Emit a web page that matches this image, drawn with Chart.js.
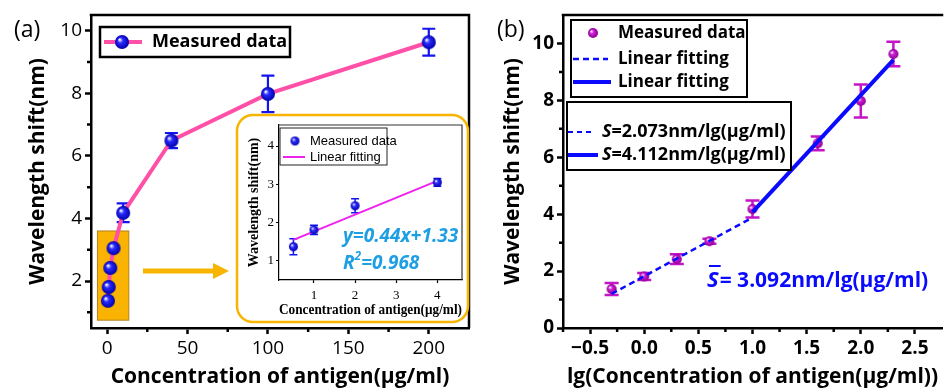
<!DOCTYPE html>
<html>
<head>
<meta charset="utf-8">
<script src="https://cdn.jsdelivr.net/npm/chart.js@4.4.0/dist/chart.umd.min.js"></script>
<style>
html, body { margin: 0; padding: 0; background: #fff; overflow: hidden; }
#wrap { position: relative; width: 948px; height: 391px; }
canvas { position: absolute; }
</style>
</head>
<body>
<div id="wrap">
  <canvas id="chartA" width="480" height="391" style="left:0;top:0"></canvas>
  <canvas id="chartB" width="468" height="391" style="left:480px;top:0"></canvas>
  <canvas id="inset" width="231" height="207" style="left:237px;top:115px"></canvas>
</div>
<script>
const concentration = [0.5, 1, 2, 4, 10, 40, 100, 200];
const lgConcentration = [-0.301, 0, 0.301, 0.602, 1, 1.602, 2, 2.301];
const shift = [1.37, 1.81, 2.42, 3.05, 4.18, 6.49, 7.98, 9.63];
const shiftErr = [0.21, 0.12, 0.17, 0.09, 0.30, 0.24, 0.58, 0.43];

// inset (low concentrations)
const insetConc = [0.5, 1, 2, 4];
const insetShift = [1.37, 1.81, 2.44, 3.05];
const insetErr = [0.21, 0.12, 0.18, 0.10];
const insetFitX = [0.5, 4];
const insetFitY = [1.55, 3.09];

// linear fits in panel (b)
const fitLowX = [-0.301, 1.0];
const fitLowY = [1.2, 3.88];
const fitHighX = [1.0, 2.301];
const fitHighY = [4.07, 9.42];

// ticks
const ticksAX = [0, 50, 100, 150, 200];
const minorAX = [25, 75, 125, 175];
const ticksAY = [2, 4, 6, 8, 10];
const minorAY = [1, 3, 5, 7, 9];
const ticksBX = [-0.5, 0, 0.5, 1, 1.5, 2, 2.5];
const minorBX = [-0.75, -0.25, 0.25, 0.75, 1.25, 1.75, 2.25];
const ticksBY = [0, 2, 4, 6, 8, 10];
const minorBY = [1, 3, 5, 7, 9];
const ticksInX = [1, 2, 3, 4];
const ticksInY = [1, 2, 3, 4];

const SANS = '"Open Sans", "Noto Sans", sans-serif';
const SERIF = '"Liberation Serif", "Times New Roman", serif';
const NARROW = '"Liberation Sans Narrow", "Liberation Sans", Arial, sans-serif';
const PINK = '#ff4fa6';
const BLUE = '#1414f0';
const MAGENTA = '#c414c8';
const FITBLUE = '#0a0aff';
const ORANGE = '#f7b500';

function sphere(r, base, dark) {
  const c = document.createElement('canvas');
  c.width = c.height = 2 * r + 2;
  const g = c.getContext('2d');
  const m = r + 1;
  const grad = g.createRadialGradient(m - r * 0.35, m - r * 0.35, r * 0.05, m, m, r);
  grad.addColorStop(0, '#ffffff');
  grad.addColorStop(0.35, base);
  grad.addColorStop(1, dark);
  g.fillStyle = grad;
  g.beginPath();
  g.arc(m, m, r, 0, Math.PI * 2);
  g.fill();
  return c;
}
const blueBall = sphere(7, '#2a2aff', '#0000a8');
const blueBallSmall = sphere(4.5, '#3030ff', '#0000b0');
const magentaBall = sphere(5, '#d020d8', '#8a0090');

function pts(xs, ys) { return xs.map((x, i) => ({ x: x, y: ys[i] })); }

function axis(o) {
  return {
    type: 'linear',
    min: o.min, max: o.max,
    afterBuildTicks: s => { s.ticks = o.ticks.map(v => ({ value: v })); },
    afterFit: s => { if (o.width) s.width = o.width; if (o.height) s.height = o.height; },
    border: { display: true, color: '#000', width: o.lw || 2.5 },
    grid: { display: true, drawOnChartArea: false, drawTicks: true, tickLength: o.tickLen || 6, tickWidth: o.lw || 2.5, color: '#000' },
    ticks: { color: '#000', font: o.tickFont, padding: o.tickPad || 3, maxRotation: 0, autoSkip: false, callback: o.fmt || (v => String(v)) },
    title: { display: true, text: o.title, color: '#000', font: o.titleFont, padding: o.titlePad }
  };
}

const errorBars = {
  id: 'errorBars',
  beforeDatasetsDraw(chart, args, o) {
    const { ctx, scales: { x, y } } = chart;
    ctx.save();
    ctx.strokeStyle = o.color;
    ctx.lineWidth = o.width;
    o.xs.forEach((xv, i) => {
      const px = x.getPixelForValue(xv);
      const t = y.getPixelForValue(o.ys[i] + o.err[i]);
      const b = y.getPixelForValue(o.ys[i] - o.err[i]);
      ctx.beginPath();
      ctx.moveTo(px, t); ctx.lineTo(px, b);
      ctx.moveTo(px - o.cap, t); ctx.lineTo(px + o.cap, t);
      ctx.moveTo(px - o.cap, b); ctx.lineTo(px + o.cap, b);
      ctx.stroke();
    });
    ctx.restore();
  }
};

const frameAndMinor = {
  id: 'frameAndMinor',
  afterDraw(chart, args, o) {
    const { ctx, chartArea: a, scales: { x, y } } = chart;
    ctx.save();
    ctx.strokeStyle = o.color || '#000';
    ctx.lineWidth = o.width;
    ctx.beginPath();
    if (o.top) { ctx.moveTo(a.left - o.width / 2, a.top); ctx.lineTo(a.right + o.width / 2, a.top); }
    if (o.right) { ctx.moveTo(a.right, a.top); ctx.lineTo(a.right, a.bottom); }
    (o.minorX || []).forEach(v => {
      const px = x.getPixelForValue(v);
      ctx.moveTo(px, a.bottom); ctx.lineTo(px, a.bottom + o.minorLen);
    });
    (o.minorY || []).forEach(v => {
      const py = y.getPixelForValue(v);
      ctx.moveTo(a.left, py); ctx.lineTo(a.left - o.minorLen, py);
    });
    ctx.stroke();
    ctx.restore();
  }
};

function runs(ctx, x, y, list) {
  list.forEach(r => {
    ctx.font = r.font;
    ctx.fillText(r.text, x, y + (r.dy || 0));
    x += ctx.measureText(r.text).width + (r.gap || 0);
  });
  return x;
}

function seg(ctx, x0, x1, y, w, color, dash) {
  ctx.save();
  ctx.strokeStyle = color; ctx.lineWidth = w;
  ctx.setLineDash(dash || []);
  ctx.beginPath(); ctx.moveTo(x0, y); ctx.lineTo(x1, y); ctx.stroke();
  ctx.restore();
}

// ---------- panel (a) ----------
const decorA = {
  id: 'decorA',
  beforeDatasetsDraw(chart) {
    const { ctx, scales: { x, y } } = chart;
    // highlighted low-concentration region
    const x0 = x.getPixelForValue(-6), x1 = x.getPixelForValue(13.5);
    const y0 = y.getPixelForValue(3.6), y1 = y.getPixelForValue(0.75);
    ctx.save();
    ctx.fillStyle = '#f9b300';
    ctx.fillRect(x0, y0, x1 - x0, y1 - y0);
    ctx.strokeStyle = '#b08020'; ctx.lineWidth = 1;
    ctx.strokeRect(x0, y0, x1 - x0, y1 - y0);
    ctx.restore();
  },
  afterDraw(chart) {
    const ctx = chart.ctx;
    ctx.save();
    ctx.fillStyle = '#000';
    ctx.textBaseline = 'middle';
    ctx.font = `500 23px ${SANS}`;
    ctx.fillText('(a)', 14, 30);
    // legend
    ctx.fillStyle = '#fff';
    ctx.fillRect(100, 27, 190, 30);
    ctx.strokeStyle = '#000'; ctx.lineWidth = 2.5;
    ctx.strokeRect(100, 27, 190, 30);
    seg(ctx, 104, 142, 42, 4, PINK);
    ctx.drawImage(blueBall, 122 - 8, 42 - 8);
    ctx.fillStyle = '#000';
    ctx.font = `bold 18px ${SANS}`;
    ctx.fillText('Measured data', 152, 42);
    // arrow
    ctx.fillStyle = ORANGE; ctx.strokeStyle = ORANGE;
    seg(ctx, 143, 214, 271, 5, ORANGE);
    ctx.beginPath();
    ctx.moveTo(213, 263); ctx.lineTo(229, 271); ctx.lineTo(213, 279); ctx.closePath(); ctx.fill();
    // inset box
    ctx.beginPath();
    ctx.roundRect(237, 115, 231, 207, 16);
    ctx.fillStyle = '#fff'; ctx.fill();
    ctx.lineWidth = 2.5; ctx.strokeStyle = ORANGE; ctx.stroke();
    ctx.restore();
  }
};

new Chart(document.getElementById('chartA'), {
  type: 'line',
  data: {
    datasets: [{
      data: pts(concentration, shift),
      borderColor: PINK, borderWidth: 4,
      pointStyle: blueBall, pointRadius: 7, tension: 0
    }]
  },
  options: {
    responsive: false, animation: false,
    layout: { padding: { top: 15, right: 4, left: 0, bottom: 0 } },
    plugins: {
      legend: { display: false }, tooltip: { enabled: false },
      errorBars: { xs: concentration, ys: shift, err: shiftErr, color: BLUE, width: 2.2, cap: 6.5 },
      frameAndMinor: { top: true, right: true, width: 2.5, minorX: minorAX, minorY: minorAY, minorLen: 4 }
    },
    scales: {
      x: axis({ min: -10, max: 225, ticks: ticksAX, height: 63, tickFont: { family: SANS, size: 19 }, tickPad: 3,
        title: 'Concentration of antigen(\u03bcg/ml)', titleFont: { family: SANS, size: 21, weight: 'bold' }, titlePad: { top: 0, bottom: 1.4 } }),
      y: axis({ min: 0.5, max: 10.5, ticks: ticksAY, width: 91, tickFont: { family: SANS, size: 19 }, tickPad: 3,
        title: 'Wavelength shift(nm)', titleFont: { family: SANS, size: 21, weight: 'bold' }, titlePad: { top: 25.4, bottom: 0 } })
    }
  },
  plugins: [errorBars, frameAndMinor, decorA]
});

// ---------- inset ----------
const decorInset = {
  id: 'decorInset',
  afterDraw(chart) {
    const ctx = chart.ctx;
    ctx.save();
    // legend (inset canvas coords)
    ctx.fillStyle = '#fff';
    ctx.fillRect(43, 13, 107, 37);
    ctx.strokeStyle = '#222'; ctx.lineWidth = 1;
    ctx.strokeRect(43, 13, 107, 37);
    ctx.drawImage(blueBallSmall, 58 - 5.5, 26 - 5.5);
    seg(ctx, 46, 68, 42, 2, '#ee22ee');
    ctx.fillStyle = '#000';
    ctx.textBaseline = 'middle';
    ctx.font = `13px ${NARROW}`;
    ctx.fillText('Measured data', 73, 26);
    ctx.fillText('Linear fitting', 73, 42);
    // fit annotation
    ctx.fillStyle = '#1f9fe3';
    ctx.font = `italic bold 19px ${SANS}`;
    ctx.fillText('y=0.44x+1.33', 106, 122);
    runs(ctx, 106, 149, [
      { text: 'R', font: `italic bold 19px ${SANS}` },
      { text: '2', font: `italic bold 12px ${SANS}`, dy: -7 },
      { text: '=0.968', font: `italic bold 19px ${SANS}` }
    ]);
    ctx.restore();
  }
};

new Chart(document.getElementById('inset'), {
  type: 'line',
  data: {
    datasets: [
      { data: pts(insetConc, insetShift), showLine: false, pointStyle: blueBallSmall, pointRadius: 5 },
      { data: pts(insetFitX, insetFitY), borderColor: '#ee22ee', borderWidth: 2, pointRadius: 0 }
    ]
  },
  options: {
    responsive: false, animation: false,
    layout: { padding: { top: 10, right: 5, left: 0, bottom: 0 } },
    plugins: {
      legend: { display: false }, tooltip: { enabled: false },
      errorBars: { xs: insetConc, ys: insetShift, err: insetErr, color: BLUE, width: 1.5, cap: 4 },
      frameAndMinor: { top: true, right: true, width: 1.2, color: '#333', minorLen: 0 }
    },
    scales: {
      x: axis({ min: 0.15, max: 4.6, ticks: ticksInX, height: 42, lw: 1.2, tickLen: 3, tickFont: { family: SERIF, size: 13 }, tickPad: 5,
        title: 'Concentration of antigen(\u03bcg/ml)', titleFont: { family: SERIF, size: 14, weight: 'bold' }, titlePad: { top: 0, bottom: 3.6 } }),
      y: axis({ min: 0.5, max: 4.55, ticks: ticksInY, width: 42, lw: 1.2, tickLen: 3, tickFont: { family: SERIF, size: 13 }, tickPad: 2,
        title: 'Wavelength shift(nm)', titleFont: { family: SERIF, size: 14, weight: 'bold' }, titlePad: { top: 8.6, bottom: 0 } })
    }
  },
  plugins: [errorBars, frameAndMinor, decorInset]
});

// ---------- panel (b) ----------
const decorB = {
  id: 'decorB',
  afterDraw(chart) {
    const ctx = chart.ctx;
    ctx.save();
    ctx.textBaseline = 'middle';
    ctx.fillStyle = '#000';
    ctx.font = `500 23px ${SANS}`;
    ctx.fillText('(b)', 17, 30);
    // legend 1
    ctx.fillStyle = '#fff';
    ctx.fillRect(91, 20, 176, 77);
    ctx.strokeStyle = '#000'; ctx.lineWidth = 2;
    ctx.strokeRect(91, 20, 176, 77);
    ctx.drawImage(magentaBall, 113 - 6, 33 - 6);
    seg(ctx, 93, 128, 59, 2.5, FITBLUE, [6, 4]);
    seg(ctx, 93, 131, 82, 4, FITBLUE);
    ctx.fillStyle = '#000';
    ctx.font = `bold 17px ${SANS}`;
    ctx.fillText('Measured data', 138, 33);
    ctx.fillText('Linear fitting', 138, 59);
    ctx.fillText('Linear fitting', 138, 82);
    // legend 2
    ctx.fillStyle = '#fff';
    ctx.fillRect(87, 102, 224, 68);
    ctx.strokeStyle = '#000'; ctx.lineWidth = 2;
    ctx.strokeRect(87, 102, 224, 68);
    seg(ctx, 88, 113, 132, 2, FITBLUE, [5, 4]);
    seg(ctx, 88, 118, 155, 4, FITBLUE);
    ctx.fillStyle = '#000';
    runs(ctx, 122, 132, [
      { text: 'S', font: `italic bold 18px ${SANS}` },
      { text: '=2.073nm/lg(\u03bcg/ml)', font: `bold 18px ${SANS}` }
    ]);
    runs(ctx, 122, 155, [
      { text: 'S', font: `italic bold 18px ${SANS}` },
      { text: '=4.112nm/lg(\u03bcg/ml)', font: `bold 18px ${SANS}` }
    ]);
    // mean sensitivity
    ctx.fillStyle = FITBLUE;
    ctx.font = `italic bold 22px ${SANS}`;
    const sw = ctx.measureText('S').width;
    ctx.fillText('S', 227, 281);
    ctx.fillRect(229, 265, sw, 2);
    ctx.font = `bold 21px ${SANS}`;
    ctx.fillText('= 3.092nm/lg(\u03bcg/ml)', 227 + sw + 1, 281);
    ctx.restore();
  }
};

new Chart(document.getElementById('chartB'), {
  type: 'line',
  data: {
    datasets: [
      { data: pts(fitLowX, fitLowY), borderColor: FITBLUE, borderWidth: 2.5, borderDash: [6, 4], pointRadius: 0 },
      { data: pts(fitHighX, fitHighY), borderColor: FITBLUE, borderWidth: 4, pointRadius: 0 },
      { data: pts(lgConcentration, shift), showLine: false, pointStyle: magentaBall, pointRadius: 5 }
    ]
  },
  options: {
    responsive: false, animation: false,
    layout: { padding: { top: 15, right: 0, left: 0, bottom: 0 } },
    plugins: {
      legend: { display: false }, tooltip: { enabled: false },
      errorBars: { xs: lgConcentration, ys: shift, err: shiftErr, color: MAGENTA, width: 2.5, cap: 7 },
      frameAndMinor: { top: true, right: false, width: 2.5, minorX: minorBX, minorY: minorBY, minorLen: 4 }
    },
    scales: {
      x: axis({ min: -0.75, max: 2.75, ticks: ticksBX, height: 63, tickFont: { family: SANS, size: 19, weight: 'bold' }, tickPad: 3,
        fmt: v => (v < 0 ? '\u2212' : '') + Math.abs(v).toFixed(1),
        title: 'lg(Concentration of antigen(\u03bcg/ml))', titleFont: { family: SANS, size: 21, weight: 'bold' }, titlePad: { top: 0, bottom: 1.4 } }),
      y: axis({ min: 0, max: 11, ticks: ticksBY, width: 83, tickFont: { family: SANS, size: 19, weight: 'bold' }, tickPad: 3,
        title: 'Wavelength shift(nm)', titleFont: { family: SANS, size: 21, weight: 'bold' }, titlePad: { top: 20.4, bottom: 0 } })
    }
  },
  plugins: [errorBars, frameAndMinor, decorB]
});
</script>
</body>
</html>
